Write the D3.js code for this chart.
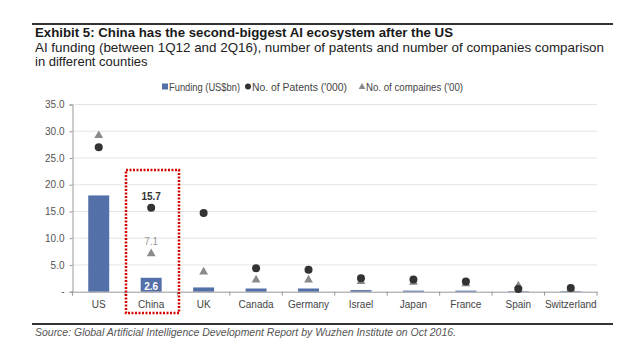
<!DOCTYPE html>
<html><head><meta charset="utf-8">
<script src="https://cdn.jsdelivr.net/npm/d3@7"></script>
<style>body{margin:0;background:#fff}svg{display:block;font-family:"Liberation Sans",Arial,sans-serif}</style>
</head><body><svg id="c" width="640" height="359"></svg>
<script>
const countries = ["US","China","UK","Canada","Germany","Israel","Japan","France","Spain","Switzerland"];
const funding = [18.0, 2.6, 0.8, 0.6, 0.6, 0.3, 0.2, 0.2, 0.1, 0.1];
const patents = [27.0, 15.7, 14.7, 4.4, 4.1, 2.5, 2.3, 1.9, 0.5, 0.7];
const companies = [29.2, 7.1, 3.7, 2.2, 2.2, 1.9, 1.8, 1.5, 1.1, 0.5];
const yTicks = [0, 5, 10, 15, 20, 25, 30, 35];
const legendLabels = ["Funding (US$bn)", "No. of Patents ('000)", "No. of compaines ('00)"];

const svg = d3.select("#c");
const x = d3.scaleBand().domain(countries).range([72.5, 597]).paddingInner(0).paddingOuter(0);
const y = d3.scaleLinear().domain([0, 35]).range([291.7, 104.5]);

// Header
svg.append("line").attr("x1",32).attr("x2",613).attr("y1",24).attr("y2",24).attr("stroke","#333").attr("stroke-width",2);
svg.append("text").attr("x",35).attr("y",36.5).attr("font-size",13).attr("font-weight","bold").attr("fill","#1a1a1a")
  .attr("textLength",418).attr("lengthAdjust","spacingAndGlyphs")
  .text("Exhibit 5: China has the second-biggest AI ecosystem after the US");
svg.append("text").attr("x",35).attr("y",52).attr("font-size",13).attr("fill","#222")
  .attr("textLength",569).attr("lengthAdjust","spacingAndGlyphs")
  .text("AI funding (between 1Q12 and 2Q16), number of patents and number of companies comparison");
svg.append("text").attr("x",35).attr("y",66).attr("font-size",13).attr("fill","#222")
  .text("in different counties");

// Gridlines
svg.append("g").selectAll("line").data(yTicks.filter(d=>d>0)).join("line")
  .attr("x1",72.5).attr("x2",597).attr("y1",d=>y(d)).attr("y2",d=>y(d))
  .attr("stroke","#e4e4e4").attr("stroke-width",1);

// Y axis
const yAxis = d3.axisLeft(y).tickValues(yTicks).tickSize(3).tickPadding(5)
  .tickFormat(d => d === 0 ? "-" : d3.format(".1f")(d));
const gy = svg.append("g").attr("transform","translate(72.5,0)").call(yAxis);
gy.select(".domain").attr("stroke","#999");
gy.selectAll(".tick line").attr("stroke","#999");
gy.selectAll(".tick text").attr("font-size",10).attr("fill","#555").attr("font-family","Liberation Sans, Arial, sans-serif");

// Bars
const bw = x.bandwidth()*0.4;
svg.append("g").selectAll("rect").data(countries).join("rect")
  .attr("x", d => x(d) + x.bandwidth()/2 - bw/2)
  .attr("y", (d,i) => y(funding[i]))
  .attr("width", bw)
  .attr("height", (d,i) => y(0) - y(funding[i]))
  .attr("fill", "#5470a8");

// X axis
const xAxis = d3.axisBottom(x).tickSize(0).tickPadding(9);
const gx = svg.append("g").attr("transform",`translate(0,${y(0)})`).call(xAxis);
gx.select(".domain").attr("stroke","#999");
gx.selectAll(".tick text").attr("font-size",10).attr("fill","#444").attr("font-family","Liberation Sans, Arial, sans-serif");
svg.append("g").selectAll("line").data(countries.concat(["_end"])).join("line")
  .attr("x1",(d,i)=> 72.5 + i*x.step()).attr("x2",(d,i)=> 72.5 + i*x.step())
  .attr("y1", y(0)).attr("y2", y(0)+4).attr("stroke","#999");

// Triangles (companies)
const tri = d3.symbol().type(d3.symbolTriangle).size(34);
svg.append("g").selectAll("path").data(countries).join("path")
  .attr("d", tri)
  .attr("transform", (d,i) => `translate(${x(d)+x.bandwidth()/2},${y(companies[i])})`)
  .attr("fill","#8a8a8a");

// Dots (patents)
svg.append("g").selectAll("circle").data(countries).join("circle")
  .attr("cx", d => x(d)+x.bandwidth()/2)
  .attr("cy", (d,i) => y(patents[i]))
  .attr("r", 4)
  .attr("fill","#333");

// China labels
const cx = x("China")+x.bandwidth()/2;
svg.append("text").attr("x",cx).attr("y",y(patents[1])-8).attr("text-anchor","middle")
  .attr("font-size",10).attr("font-weight","bold").attr("fill","#333").text(patents[1].toFixed(1));
svg.append("text").attr("x",cx).attr("y",y(companies[1])-9).attr("text-anchor","middle")
  .attr("font-size",10).attr("fill","#999").text(companies[1].toFixed(1));
svg.append("text").attr("x",cx).attr("y",y(0)-1.5).attr("text-anchor","middle")
  .attr("font-size",10).attr("font-weight","bold").attr("fill","#fff").text(funding[1].toFixed(1));

// Red dotted highlight
svg.append("rect").attr("x",126).attr("y",170).attr("width",53).attr("height",143)
  .attr("fill","none").attr("stroke","#d40000").attr("stroke-width",2.5).attr("stroke-dasharray","2,1.5");

// Legend
const lg = svg.append("g").attr("transform","translate(162,87)");
const legX = [0, 83, 197];
const legW = [71, 95, 97];
lg.append("rect").attr("x",legX[0]).attr("y",-3.5).attr("width",6).attr("height",6).attr("fill","#5470a8");
lg.append("circle").attr("cx",legX[1]+3).attr("cy",-0.5).attr("r",3).attr("fill","#333");
lg.append("path").attr("d",d3.symbol().type(d3.symbolTriangle).size(20)).attr("transform",`translate(${legX[2]+3},0)`).attr("fill","#8a8a8a");
lg.selectAll("text").data(legendLabels).join("text")
  .attr("x",(d,i)=>legX[i]+7).attr("y",3.5).attr("font-size",10).attr("fill","#444")
  .attr("textLength",(d,i)=>legW[i]).attr("lengthAdjust","spacingAndGlyphs").text(d=>d);

// Footer
svg.append("line").attr("x1",32).attr("x2",613).attr("y1",324).attr("y2",324).attr("stroke","#333").attr("stroke-width",2);
svg.append("text").attr("x",35).attr("y",336).attr("font-size",10).attr("font-style","italic").attr("fill","#555")
  .attr("textLength",421).attr("lengthAdjust","spacingAndGlyphs")
  .text("Source: Global Artificial Intelligence Development Report by Wuzhen Institute on Oct 2016.");
</script></body></html>
